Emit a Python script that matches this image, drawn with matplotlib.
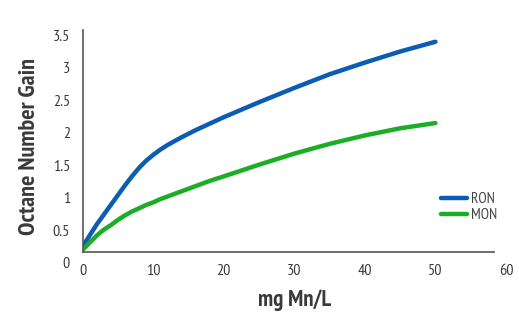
import matplotlib
matplotlib.use("Agg")
import matplotlib.pyplot as plt

x_mg = [0, 1, 2, 3, 4, 5, 6, 7, 8, 9, 10, 11, 12, 14, 16, 18, 20, 25, 30, 35, 40, 45, 50]
ron = [0.25, 0.42, 0.59, 0.74, 0.89, 1.04, 1.19, 1.33, 1.46, 1.57, 1.66, 1.74, 1.81,
       1.93, 2.04, 2.14, 2.24, 2.47, 2.69, 2.90, 3.08, 3.25, 3.40]
mon = [0.20, 0.31, 0.42, 0.51, 0.58, 0.66, 0.73, 0.79, 0.84, 0.89, 0.93, 0.98, 1.02,
       1.10, 1.18, 1.26, 1.33, 1.51, 1.68, 1.83, 1.96, 2.07, 2.15]
xticks = [0, 10, 20, 30, 40, 50, 60]
yticks = [0, 0.5, 1, 1.5, 2, 2.5, 3, 3.5]
ytick_labels = ["0", "0.5", "1", "1.5", "2", "2.5", "3", "3.5"]

plt.rcParams['font.family'] = ['PT Sans Narrow', 'Roboto Condensed', 'DejaVu Sans']
txt = '#3a3a3a'

fig = plt.figure(figsize=(5.19, 3.23), dpi=100)
ax = fig.add_axes([0.159, 0.186, 0.816, 0.721])
ax.plot(x_mg, ron, color='#0a5cb4', lw=3.2, solid_capstyle='round', label='RON')
ax.plot(x_mg, mon, color='#1cad26', lw=3.2, solid_capstyle='round', label='MON')

ax.set_xlim(0, 60)
ax.set_ylim(0, 3.58)
ybase = 0.17
ax.spines['bottom'].set_position(('data', ybase))
ax.spines['bottom'].set_bounds(0, 58.3)
ax.spines['left'].set_bounds(ybase, 3.58)
for s in ['top', 'right']:
    ax.spines[s].set_visible(False)
for s in ['bottom', 'left']:
    ax.spines[s].set_color('#555555')
    ax.spines[s].set_linewidth(1.2)

ax.set_xticks(xticks)
ax.set_xticklabels([str(v) for v in xticks])
ax.set_yticks(yticks)
ax.set_yticklabels(ytick_labels)
ax.tick_params(length=0, labelsize=11.5, colors=txt)
ax.tick_params(axis='x', pad=9)
ax.tick_params(axis='y', pad=9)

ax.set_ylabel('Octane Number Gain', fontsize=17.5, fontweight='bold', color=txt, labelpad=9)
ax.set_xlabel('mg Mn/L', fontsize=16.5, fontweight='bold', color=txt, labelpad=8)

leg = ax.legend(loc='upper left', bbox_to_anchor=(0.833, 0.33), frameon=False,
                fontsize=11, handlelength=1.65, handletextpad=0.3, labelspacing=0.15,
                labelcolor='#444444', borderaxespad=0)

fig.savefig('out.png', dpi=100)
